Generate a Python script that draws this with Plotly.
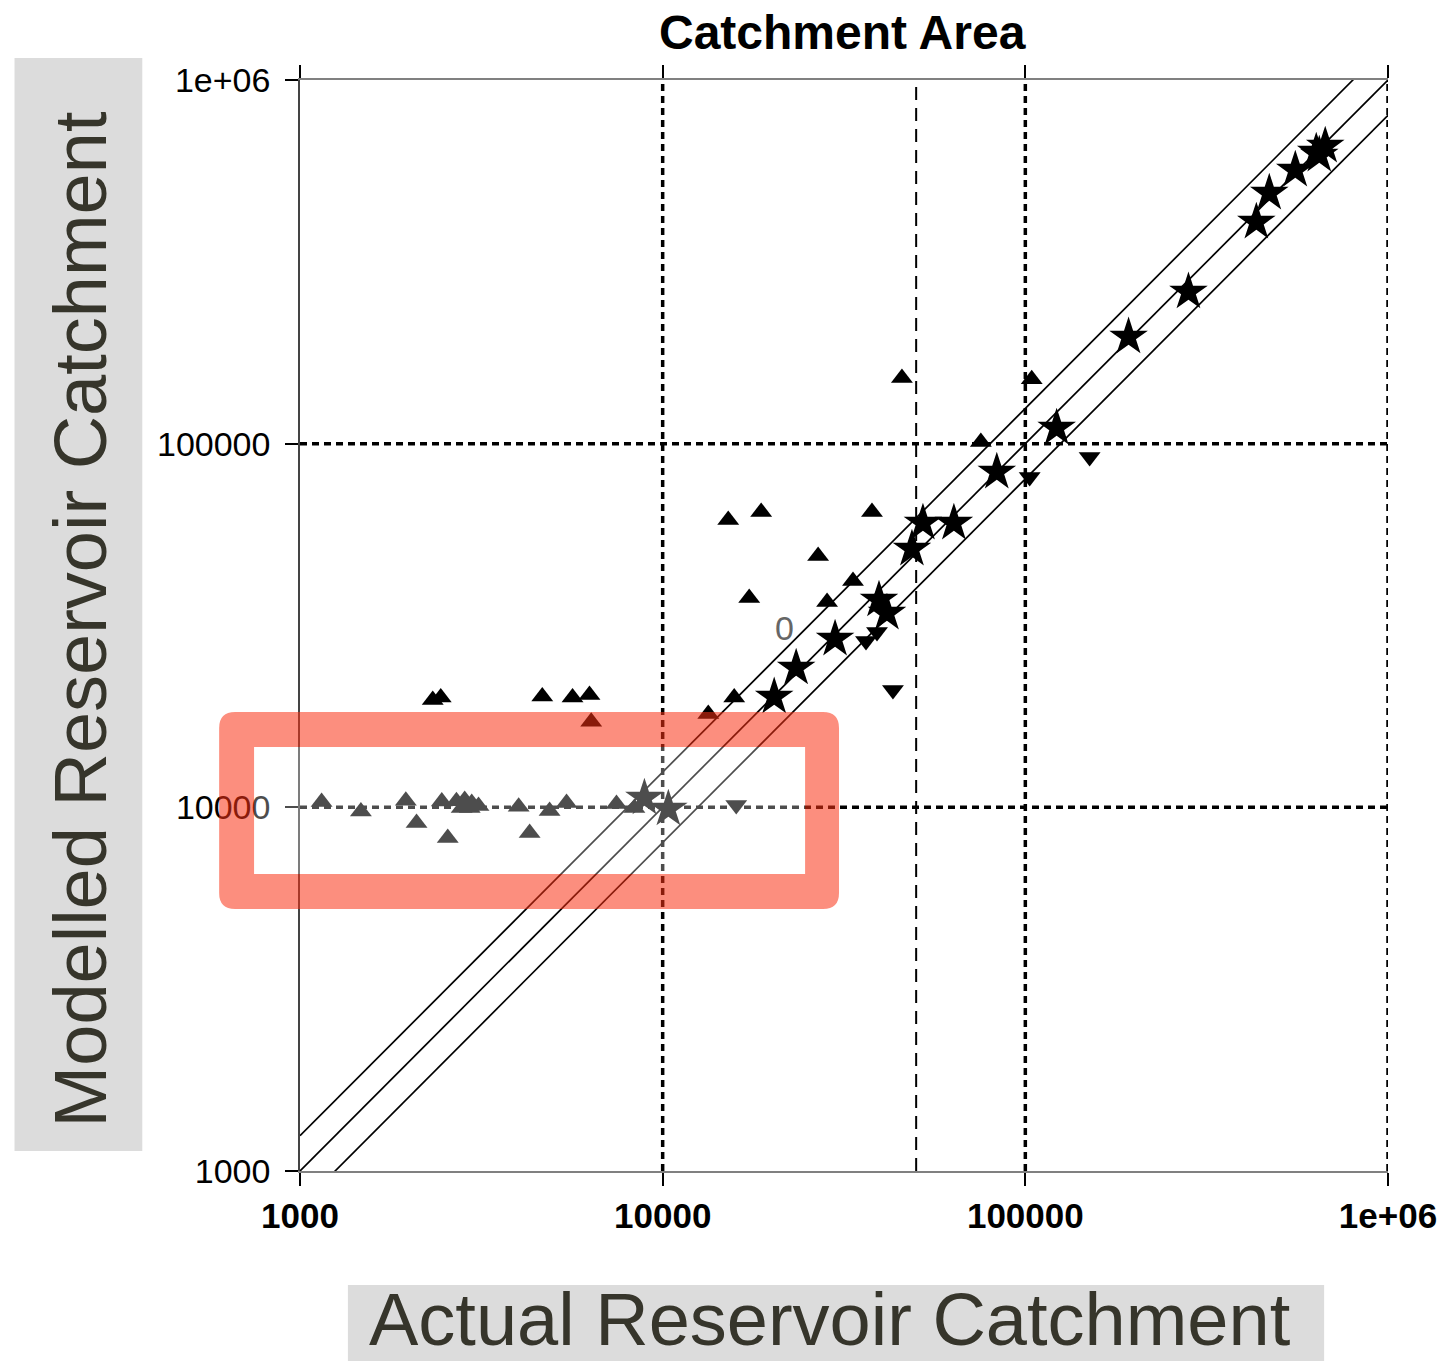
import math
import plotly.graph_objects as go

# ---------------- data ----------------
up_x = [1147, 1472, 1958, 2096, 2460, 2555, 2700, 2845, 2975, 3106, 2791, 2938,
        4008, 4297, 4877, 5432, 7458, 8358,
        2323, 2444, 4656, 5642, 6284, 6353, 13358, 15750, 15165, 18690, 17323,
        45680, 104130, 75390, 37770, 26830, 33480, 28400]
up_y = [10347, 9732, 10433, 9060, 10370, 8240, 10400, 10478, 10283, 10088, 9963, 9963,
        10044, 8503, 9775, 10283, 10217, 9963,
        19740, 20030, 20160, 20030, 20370, 17200, 18070, 20030, 61690, 64900, 37650,
        151600, 150400, 101090, 64900, 49130, 41930, 36710]

down_x = [150400, 102800, 38990, 36360, 43150, 15954]
down_y = [91920, 80990, 30370, 28680, 21030, 10153]

star_x = [8906, 10368, 20300, 23340, 29880, 39490, 41540, 48680, 52200, 63530,
          83430, 122000, 192600, 281700, 433500, 470600, 555100, 634100, 671300, 646400]
star_y = [10612, 9899, 20120, 24170, 29040, 37180, 34230, 51340, 60530, 60530,
          83600, 110450, 196600, 261400, 407000, 489000, 565600, 633900, 658500, 622000]

ref_ratios = [1.0, 1.25, 0.8]          # 1:1 line and +/-25% band
ref_x = [1000, 1000000]

tick_vals = [1000, 10000, 100000, 1000000]
tick_text = ["1000", "10000", "100000", "1e+06"]
grid_vals = [10000, 100000, 1000000]
ygrid_vals = [10000, 100000]
split_x = 50000

label_text = "0"
label_x, label_y = 21630, 31130

title = "Catchment Area"
x_title = "Actual Reservoir Catchment"
y_title = "Modelled Reservoir Catchment"

# ---------------- layout geometry ----------------
W, H = 1449, 1361
ML, MR, MT, MB = 300, 59, 80, 190
PW = W - ML - MR
PH = H - MT - MB


def px(x):
    return (x - ML) / PW


def py(y):
    return (H - MB - y) / PH


FONT = "Liberation Sans, Arial, Helvetica, sans-serif"
TXT = "#36352b"

fig = go.Figure()

for r in ref_ratios:
    fig.add_trace(go.Scatter(x=ref_x, y=[v * r for v in ref_x], mode="lines",
                             line=dict(color="black", width=1.7),
                             hoverinfo="skip", showlegend=False))

fig.add_trace(go.Scatter(x=up_x, y=up_y, mode="markers",
                         marker=dict(symbol="triangle-up", size=19, color="black"),
                         showlegend=False))
fig.add_trace(go.Scatter(x=down_x, y=down_y, mode="markers",
                         marker=dict(symbol="triangle-down", size=19, color="black"),
                         showlegend=False))
fig.add_trace(go.Scatter(x=star_x, y=star_y, mode="markers",
                         marker=dict(symbol="star", size=29, color="black"),
                         showlegend=False))

shapes = []
# dotted grid lines
GRID = dict(color="black", width=3.5, dash="7px,5px")
for gx in grid_vals:
    shapes.append(dict(type="line", xref="x", yref="paper", x0=gx, x1=gx, y0=0, y1=1,
                       line=GRID, layer="below"))
for gy in ygrid_vals:
    shapes.append(dict(type="line", xref="paper", yref="y", x0=0, x1=1, y0=gy, y1=gy,
                       line=GRID, layer="below"))
# dashed split line
shapes.append(dict(type="line", xref="x", yref="paper", x0=split_x, x1=split_x, y0=0, y1=1,
                   line=dict(color="black", width=2, dash="13px,8px"), layer="below"))

# gray title boxes
shapes.append(dict(type="rect", xref="paper", yref="paper",
                   x0=px(14), x1=px(142), y0=py(1151), y1=py(58),
                   fillcolor="#dcdcdc", line=dict(width=0), layer="below"))
shapes.append(dict(type="rect", xref="paper", yref="paper",
                   x0=px(348), x1=px(1326), y0=py(1361), y1=py(1285),
                   fillcolor="#dcdcdc", line=dict(width=0), layer="below"))

# highlight frame (rounded ring, translucent red) and faded interior
ox0, ox1, oy0, oy1, rr = 219, 840, 712, 909, 16
ix0, ix1, iy0, iy1 = 254, 806, 747, 874


def P(x, y):
    return f"{px(x):.5f},{py(y):.5f}"


ring = (f"M{P(ox0+rr, oy0)} L{P(ox1-rr, oy0)} Q{P(ox1, oy0)} {P(ox1, oy0+rr)} "
        f"L{P(ox1, oy1-rr)} Q{P(ox1, oy1)} {P(ox1-rr, oy1)} "
        f"L{P(ox0+rr, oy1)} Q{P(ox0, oy1)} {P(ox0, oy1-rr)} "
        f"L{P(ox0, oy0+rr)} Q{P(ox0, oy0)} {P(ox0+rr, oy0)} Z "
        f"M{P(ix0, iy0)} L{P(ix1, iy0)} L{P(ix1, iy1)} L{P(ix0, iy1)} Z")
shapes.append(dict(type="path", xref="paper", yref="paper", path=ring,
                   fillcolor="rgba(250,50,20,0.55)", fillrule="evenodd",
                   line=dict(width=0), layer="above"))
shapes.append(dict(type="rect", xref="paper", yref="paper",
                   x0=px(ix0), x1=px(ix1), y0=py(iy1), y1=py(iy0),
                   fillcolor="rgba(255,255,255,0.3)", line=dict(width=0), layer="above"))

annotations = [
    dict(text=title, xref="paper", yref="paper", x=px(843), y=py(33),
         xanchor="center", yanchor="middle", showarrow=False,
         font=dict(family=FONT, size=48, color="black", weight="bold")),
    dict(text=y_title, xref="paper", yref="paper", x=px(80), y=py(619),
         xanchor="center", yanchor="middle", showarrow=False, textangle=-90,
         font=dict(family=FONT, size=74, color=TXT)),
    dict(text=x_title, xref="paper", yref="paper", x=px(831), y=py(1319),
         xanchor="center", yanchor="middle", showarrow=False,
         font=dict(family=FONT, size=74, color=TXT)),
    dict(text=label_text, xref="x", yref="y", x=math.log10(label_x), y=math.log10(label_y),
         xanchor="center", yanchor="middle", showarrow=False,
         font=dict(family=FONT, size=34, color="#666666")),
]

fig.update_layout(
    width=W, height=H, autosize=False,
    margin=dict(l=ML, r=MR, t=MT, b=MB, pad=0),
    paper_bgcolor="white", plot_bgcolor="white",
    shapes=shapes, annotations=annotations, showlegend=False,
    font=dict(family=FONT, color="black"),
)
fig.update_xaxes(type="log", range=[3, 6], tickvals=tick_vals, ticktext=tick_text,
                 showgrid=False, zeroline=False,
                 showline=True, linecolor="#808080", linewidth=2, mirror="ticks",
                 ticks="outside", ticklen=13, tickwidth=1.5, tickcolor="black",
                 tickfont=dict(family=FONT, size=35, color="black", weight="bold"))
fig.update_yaxes(type="log", range=[3, 6], tickvals=tick_vals, ticktext=tick_text,
                 showgrid=False, zeroline=False,
                 showline=True, linecolor="#444444", linewidth=1.5, mirror=False,
                 ticks="outside", ticklen=13, tickwidth=1.5, tickcolor="black",
                 ticklabelstandoff=8,
                 tickfont=dict(family=FONT, size=34, color="black"))

fig.write_html("out.html")
